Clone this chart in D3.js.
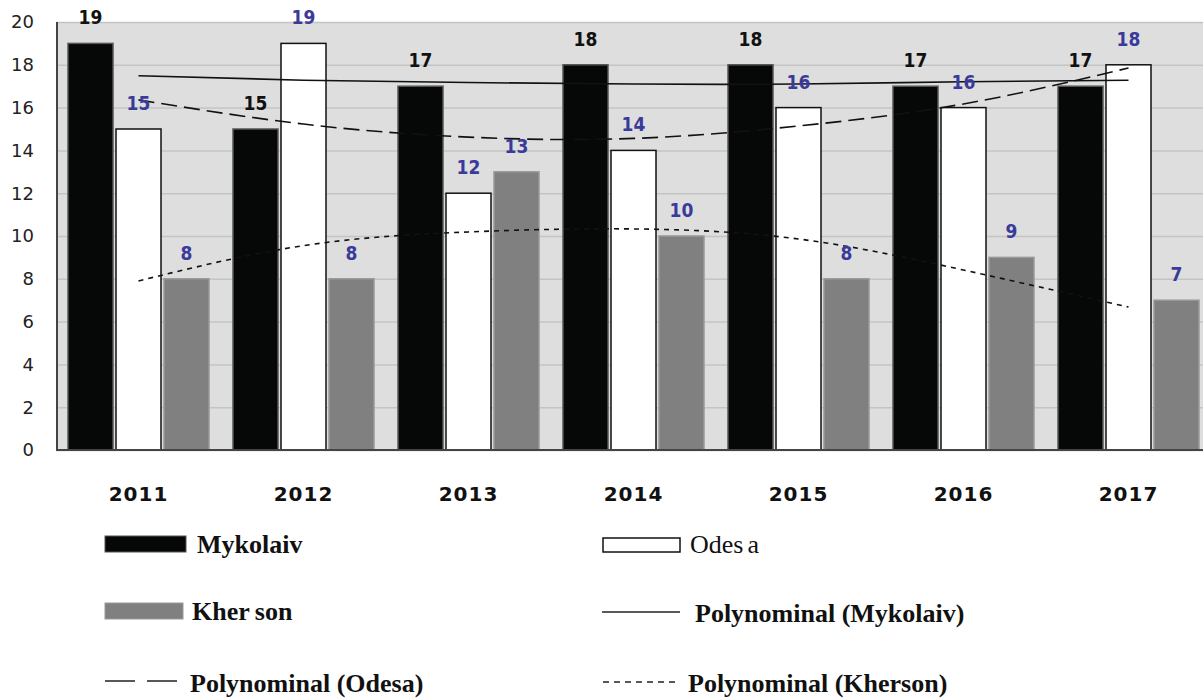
<!DOCTYPE html>
<html>
<head>
<meta charset="utf-8">
<script src="https://cdn.jsdelivr.net/npm/d3@7"></script>
<style>
  body { margin: 0; background: #fff; }
  svg { display: block; }
</style>
</head>
<body>
<svg></svg>
<script>
// values
const years = ['2011', '2012', '2013', '2014', '2015', '2016', '2017'];
const mykolaiv = [19, 15, 17, 18, 18, 17, 17];
const odesa = [15, 19, 12, 14, 16, 16, 18];
const kherson = [8, 8, 13, 10, 8, 9, 7];
// trend lines, estimated at each year from the picture
const trendMykolaiv = [17.49, 17.28, 17.17, 17.1, 17.1, 17.21, 17.28];
const trendOdesa = [16.36, 15.23, 14.62, 14.56, 15.14, 16.17, 17.85];
const trendKherson = [7.9, 9.55, 10.19, 10.33, 9.86, 8.41, 6.68];
const yTicks = [0, 2, 4, 6, 8, 10, 12, 14, 16, 18, 20];

let width = 1203;
let height = 699;
let plotLeft = 56, plotRight = 1211, plotTop = 22, plotBottom = 450;

let svg = d3.select('svg')
            .attr('width', width)
            .attr('height', height);

let xScale = d3.scaleBand()
                .domain(years)
                .range([plotLeft, plotRight]);

let inner = d3.scaleBand()
              .domain(['mykolaiv', 'odesa', 'kherson'])
              .range([12, 153])
              .paddingInner(0.0625);

let yScale = d3.scaleLinear()
               .domain([0, 20])
               .range([plotBottom, plotTop]);

// plot background
svg.append('rect')
   .attr('x', plotLeft)
   .attr('y', plotTop)
   .attr('width', plotRight - plotLeft)
   .attr('height', plotBottom - plotTop)
   .attr('fill', '#dedede');

// gridlines
let yGrid = d3.axisLeft(yScale)
              .tickValues(yTicks)
              .tickSize(-(plotRight - plotLeft))
              .tickFormat('');

svg.append('g')
   .attr('transform', `translate(${plotLeft},0)`)
   .call(yGrid)
   .call(g => g.select('.domain').remove())
   .call(g => g.selectAll('line').attr('stroke', '#c4c4c4').attr('stroke-width', 1.5));

// y axis labels
svg.append('g')
   .selectAll('text')
   .data(yTicks)
   .enter()
   .append('text')
   .attr('x', 34)
   .attr('y', d => yScale(d))
   .attr('dy', '0.36em')
   .style('text-anchor', 'end')
   .style('font-family', 'DejaVu Sans')
   .style('font-size', '18px')
   .style('fill', '#222')
   .text(d => d);

const series = [
  {key: 'mykolaiv', values: mykolaiv, fill: '#060808', stroke: '#555', label: '#111'},
  {key: 'odesa', values: odesa, fill: '#ffffff', stroke: '#111', label: '#3a3a9a'},
  {key: 'kherson', values: kherson, fill: '#808080', stroke: '#999', label: '#3a3a9a'}
];

series.forEach(s => {
  svg.append('g')
     .selectAll('rect')
     .data(s.values)
     .enter()
     .append('rect')
     .attr('x', (d, i) => xScale(years[i]) + inner(s.key))
     .attr('y', d => yScale(d))
     .attr('width', inner.bandwidth())
     .attr('height', d => plotBottom - yScale(d))
     .attr('fill', s.fill)
     .attr('stroke', s.stroke)
     .attr('stroke-width', 1.5);
});

// axis lines
svg.append('line')
   .attr('x1', plotLeft + 1).attr('x2', plotLeft + 1)
   .attr('y1', plotTop).attr('y2', plotBottom)
   .attr('stroke', '#444').attr('stroke-width', 2);
svg.append('line')
   .attr('x1', plotLeft).attr('x2', plotRight)
   .attr('y1', plotBottom).attr('y2', plotBottom)
   .attr('stroke', '#444').attr('stroke-width', 2);

// trend lines
let line = d3.line()
             .x((d, i) => xScale(years[i]) + xScale.bandwidth() / 2)
             .y(d => yScale(d))
             .curve(d3.curveNatural);

const trends = [
  {values: trendMykolaiv, dash: null},
  {values: trendOdesa, dash: '16,7'},
  {values: trendKherson, dash: '5,5'}
];

trends.forEach(t => {
  svg.append('path')
     .attr('d', line(t.values))
     .attr('fill', 'none')
     .attr('stroke', '#111')
     .attr('stroke-width', 1.6)
     .attr('stroke-dasharray', t.dash);
});

// value labels
series.forEach(s => {
  svg.append('g')
     .selectAll('text')
     .data(s.values)
     .enter()
     .append('text')
     .attr('x', (d, i) => xScale(years[i]) + inner(s.key) + inner.bandwidth() / 2)
     .attr('y', d => yScale(d) - 19)
     .style('text-anchor', 'middle')
     .style('font-family', 'DejaVu Sans Condensed, DejaVu Sans')
     .style('font-weight', 'bold')
     .style('font-size', '19px')
     .style('fill', s.label)
     .text(d => d);
});

// x axis labels
svg.append('g')
   .selectAll('text')
   .data(years)
   .enter()
   .append('text')
   .attr('x', d => xScale(d) + xScale.bandwidth() / 2)
   .attr('y', 501)
   .style('text-anchor', 'middle')
   .style('font-family', 'DejaVu Sans')
   .style('font-weight', 'bold')
   .style('font-size', '20px')
   .style('letter-spacing', '1px')
   .style('fill', '#111')
   .text(d => d);

// legend
let legend = svg.append('g')
                .style('font-family', 'Liberation Serif, Times New Roman, serif')
                .style('font-size', '26px')
                .style('font-weight', 'bold')
                .style('fill', '#111');

legend.append('rect').attr('x', 105).attr('y', 536).attr('width', 81).attr('height', 16)
      .attr('fill', '#060808').attr('stroke', '#555');
legend.append('text').attr('x', 197).attr('y', 553).text('Mykolaiv');

legend.append('rect').attr('x', 105).attr('y', 603).attr('width', 78).attr('height', 16)
      .attr('fill', '#808080').attr('stroke', '#999');
let kt = legend.append('text').attr('x', 192).attr('y', 620).text('Kher');
kt.append('tspan').attr('dx', 5).text('son');

legend.append('line').attr('x1', 105).attr('x2', 177).attr('y1', 681).attr('y2', 681)
      .attr('stroke', '#222').attr('stroke-width', 1.6).attr('stroke-dasharray', '30,12');
legend.append('text').attr('x', 190).attr('y', 692).text('Polynominal (Odesa)');

legend.append('rect').attr('x', 603).attr('y', 538).attr('width', 77).attr('height', 14)
      .attr('fill', '#fff').attr('stroke', '#111').attr('stroke-width', 1.5);
let ot = legend.append('text').attr('x', 690).attr('y', 553).style('font-weight', 'normal').text('Odes');
ot.append('tspan').attr('dx', 4).text('a');

legend.append('line').attr('x1', 602).attr('x2', 680).attr('y1', 612).attr('y2', 612)
      .attr('stroke', '#222').attr('stroke-width', 1.6);
legend.append('text').attr('x', 695).attr('y', 622).text('Polynominal (Mykolaiv)');

legend.append('line').attr('x1', 603).attr('x2', 680).attr('y1', 682).attr('y2', 682)
      .attr('stroke', '#222').attr('stroke-width', 1.4).attr('stroke-dasharray', '6,5');
legend.append('text').attr('x', 688).attr('y', 692).text('Polynominal (Kherson)');
</script>
</body>
</html>
